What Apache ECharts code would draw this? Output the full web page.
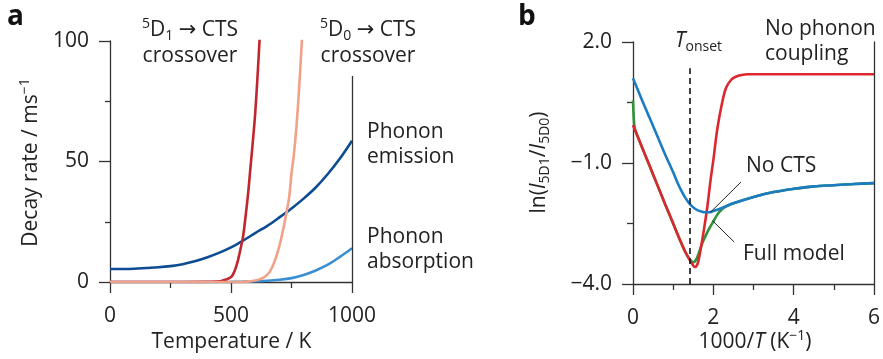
<!DOCTYPE html>
<html>
<head>
<meta charset="utf-8">
<style>
  html, body { margin: 0; padding: 0; background: #fff; }
  #chart { width: 883px; height: 359px; }
</style>
<script src="https://cdn.jsdelivr.net/npm/echarts@6/dist/echarts.min.js"></script>
</head>
<body>
<div id="chart"></div>
<script>
// Panel a: decay rates versus temperature
const rateTemps = [0, 50, 100, 150, 200, 250, 300, 350, 400, 450, 500, 550, 600, 650, 700, 750, 800, 850, 900, 950, 1000];
const phononEmission = [5.4, 5.4, 5.5, 5.8, 6.1, 6.6, 7.4, 8.6, 10.2, 12.1, 14.4, 17.2, 20.3, 23.3, 26.8, 30.5, 34.6, 39.2, 44.8, 51.2, 58.6];
const phononAbsorption = [0, 0, 0, 0, 0, 0, 0, 0, 0, 0.02, 0.05, 0.15, 0.3, 0.5, 0.9, 1.6, 2.9, 4.8, 7.2, 10.4, 14.0];

const d1Temps = [0, 100, 200, 300, 400, 440, 460, 480, 490, 500, 510, 520, 530, 540, 550, 560, 570, 580, 590, 600, 610, 620];
const d1Crossover = [0, 0, 0, 0, 0.05, 0.2, 0.4, 1.0, 1.5, 2.0, 3.5, 6.0, 9.5, 14, 19, 27, 36, 47, 58, 70, 86, 104];

const d0Temps = [0, 200, 400, 500, 560, 580, 600, 620, 640, 660, 680, 700, 720, 740, 750, 760, 770, 780, 790, 800];
const d0Crossover = [0, 0, 0, 0.02, 0.1, 0.3, 0.6, 1.2, 2.2, 4.2, 8.5, 15, 24, 35, 45, 53, 64, 78, 95, 113];

const rateTicks = { x: [0, 500, 1000], y: [0, 50, 100] };

// Panel b: intensity ratio versus inverse temperature
const noPhononX = [0, 0.2, 0.4, 0.6, 0.8, 1.0, 1.2, 1.3, 1.4, 1.47, 1.54, 1.6, 1.65, 1.75, 1.85, 1.93, 2.0, 2.1, 2.22, 2.32, 2.45, 2.56, 2.7, 2.85, 3.5, 4.5, 6];
const noPhonon = [-0.06, -0.55, -1.04, -1.53, -2.02, -2.5, -2.98, -3.2, -3.38, -3.5, -3.58, -3.52, -3.33, -2.75, -2.09, -1.43, -0.93, -0.15, 0.50, 0.87, 1.07, 1.14, 1.18, 1.2, 1.2, 1.2, 1.2];

const noCtsX = [0, 0.2, 0.4, 0.6, 0.8, 1.0, 1.1, 1.2, 1.3, 1.4, 1.5, 1.6, 1.7, 1.8, 1.9, 2.0, 2.2, 2.5, 3.0, 3.5, 4.0, 4.5, 5.0, 5.5, 6.0];
const noCts = [1.10, 0.62, 0.15, -0.32, -0.79, -1.23, -1.47, -1.68, -1.86, -2.0, -2.1, -2.17, -2.2, -2.22, -2.22, -2.19, -2.12, -2.0, -1.84, -1.72, -1.64, -1.58, -1.55, -1.52, -1.5];

const fullX = [0, 0.02, 0.04, 0.08, 0.2, 0.4, 0.6, 0.8, 1.0, 1.2, 1.3, 1.4, 1.5, 1.58, 1.65, 1.72, 1.8, 1.9, 2.0, 2.1, 2.2, 2.3, 2.5, 3.0, 3.5, 4.0, 4.5, 5.0, 5.5, 6.0];
const fullModel = [0.55, 0.1, -0.12, -0.25, -0.55, -1.04, -1.53, -2.02, -2.5, -2.98, -3.2, -3.37, -3.46, -3.38, -3.2, -3.0, -2.82, -2.62, -2.45, -2.28, -2.16, -2.09, -2.0, -1.84, -1.72, -1.64, -1.58, -1.55, -1.52, -1.5];

const tOnset = 1.42;
const ratioTicks = { x: [0, 2, 4, 6], yMajor: [-4, -1, 2], yMinor: [-2.5, 0.5] };

const FONT = "'Open Sans', 'Noto Sans', 'DejaVu Sans', sans-serif";
const INK = '#222';
const AXIS = '#333';

const zip = (xs, ys) => xs.map((x, i) => [x, ys[i]]);
const axisLine = { show: true, onZero: false, lineStyle: { color: AXIS, width: 1.3 } };
const tickStyle = { color: AXIS, width: 1.3 };
const labelStyle = { fontSize: 21, color: INK, fontFamily: FONT };

function curve(name, xs, ys, color, axis, z) {
  return {
    name, type: 'line', data: zip(xs, ys),
    xAxisIndex: axis.x, yAxisIndex: axis.y,
    showSymbol: false, symbol: 'none', smooth: 0.35, z,
    lineStyle: { color, width: 2.6 }, clip: true
  };
}

function guide(from, to, style) {
  return {
    silent: true, symbol: ['none', 'none'], label: { show: false },
    emphasis: { disabled: true }, animation: false,
    lineStyle: style,
    data: [[{ coord: from }, { coord: to }]]
  };
}

const norm = { fontSize: 21, fontFamily: FONT, fill: INK, lineHeight: 26 };
const sup = { fontSize: 14, fontFamily: FONT, fill: INK, lineHeight: 12, verticalAlign: 'top' };
const sub = { fontSize: 14, fontFamily: FONT, fill: INK, lineHeight: 18, verticalAlign: 'bottom' };
const ital = Object.assign({}, norm, { fontStyle: 'italic' });

function text(x, y, str, align, extra) {
  return Object.assign({
    type: 'text', x, y, silent: true,
    style: {
      text: str, fontSize: 21, fontFamily: FONT, fill: INK,
      align: align || 'left', verticalAlign: 'middle',
      rich: { n: norm, sup, sub, i: ital }
    }
  }, extra || {});
}

const plain = v => String(v);

const option = {
  animation: false,
  backgroundColor: '#fff',
  grid: [
    { left: 110, top: 41, width: 242, height: 241 },
    { left: 633, top: 42, width: 242, height: 242 }
  ],
  xAxis: [
    {
      gridIndex: 0, type: 'value', min: 0, max: 1000, interval: 500,
      axisLine, axisTick: { show: true, length: 11, lineStyle: tickStyle },
      minorTick: { show: true, splitNumber: 2, length: 6, lineStyle: tickStyle },
      axisLabel: Object.assign({ margin: 24, customValues: rateTicks.x, formatter: plain }, labelStyle),
      splitLine: { show: false }, minorSplitLine: { show: false }
    },
    {
      gridIndex: 1, type: 'value', min: 0, max: 6, interval: 2,
      axisLine, axisTick: { show: true, length: 11, lineStyle: tickStyle },
      minorTick: { show: true, splitNumber: 2, length: 6, lineStyle: tickStyle },
      axisLabel: Object.assign({ margin: 24, customValues: ratioTicks.x, formatter: plain }, labelStyle),
      splitLine: { show: false }, minorSplitLine: { show: false }
    }
  ],
  yAxis: [
    {
      gridIndex: 0, type: 'value', min: 0, max: 100, interval: 50,
      axisLine, axisTick: { show: true, length: 11, lineStyle: tickStyle },
      minorTick: { show: true, splitNumber: 2, length: 5, lineStyle: tickStyle },
      axisLabel: Object.assign({ margin: 21, customValues: rateTicks.y, formatter: plain }, labelStyle),
      splitLine: { show: false }, minorSplitLine: { show: false }
    },
    {
      gridIndex: 1, type: 'value', min: -4, max: 2,
      axisLine,
      axisTick: { show: true, length: 11, lineStyle: tickStyle, customValues: ratioTicks.yMajor },
      axisLabel: Object.assign({
        margin: 21, customValues: ratioTicks.yMajor,
        formatter: v => v.toFixed(1).replace('-', '\u2212')
      }, labelStyle),
      splitLine: { show: false }
    },
    {
      gridIndex: 1, type: 'value', min: -4, max: 2, position: 'left',
      axisLine: { show: false, onZero: false },
      axisTick: { show: true, length: 6, lineStyle: tickStyle, customValues: ratioTicks.yMinor },
      axisLabel: { show: false }, splitLine: { show: false }
    },
    {
      gridIndex: 1, type: 'value', min: -4, max: 2, position: 'right',
      axisLine, axisTick: { show: false }, axisLabel: { show: false }, splitLine: { show: false }
    }
  ],
  series: [
    Object.assign(curve('Phonon emission', rateTemps, phononEmission, '#0d4c92', { x: 0, y: 0 }, 3), {
      markLine: guide([1000, 0], [1000, 85.5], { color: AXIS, width: 1.3, type: 'solid' })
    }),
    curve('Phonon absorption', rateTemps, phononAbsorption, '#3a8fd3', { x: 0, y: 0 }, 2),
    curve('5D1 → CTS crossover', d1Temps, d1Crossover, '#c1252d', { x: 0, y: 0 }, 4),
    curve('5D0 → CTS crossover', d0Temps, d0Crossover, '#f2a189', { x: 0, y: 0 }, 4),

    curve('Full model', fullX, fullModel, '#2f9238', { x: 1, y: 1 }, 2),
    Object.assign(curve('No phonon coupling', noPhononX, noPhonon, '#db2830', { x: 1, y: 1 }, 3), {
      markLine: guide([tOnset, -4], [tOnset, 1.35], { color: '#111', width: 1.6, type: [6, 4] })
    }),
    Object.assign(curve('No CTS', noCtsX, noCts, '#1b7cc4', { x: 1, y: 1 }, 4), {
      markLine: {
        silent: true, symbol: ['none', 'none'], label: { show: false },
        emphasis: { disabled: true }, animation: false,
        lineStyle: { color: '#222', width: 1, type: 'solid' },
        data: [
          [{ coord: [2.69, -1.47] }, { coord: [1.93, -2.22] }],
          [{ coord: [1.98, -2.43] }, { coord: [2.52, -2.96] }]
        ]
      }
    })
  ],
  graphic: [
    // panel letters
    { type: 'text', x: 7, y: 17, silent: true,
      style: { text: 'a', fontSize: 28, fontWeight: 'bold', fontFamily: FONT, fill: '#111', verticalAlign: 'middle' } },
    { type: 'text', x: 518, y: 17, silent: true,
      style: { text: 'b', fontSize: 28, fontWeight: 'bold', fontFamily: FONT, fill: '#111', verticalAlign: 'middle' } },

    // panel a annotations
    text(190, 30, '{sup|5}{n|D}{sub|1}{n| \u2192 CTS}', 'center'),
    text(190, 56, 'crossover', 'center'),
    text(368, 30, '{sup|5}{n|D}{sub|0}{n| \u2192 CTS}', 'center'),
    text(368, 56, 'crossover', 'center'),
    text(367, 132, 'Phonon'),
    text(367, 157, 'emission'),
    text(367, 237, 'Phonon'),
    text(367, 262, 'absorption'),
    text(231.5, 342, 'Temperature / K', 'center'),
    text(31, 162.5, '{n|Decay rate / ms}{sup|\u22121}', 'center', { rotation: Math.PI / 2 }),

    // panel b annotations
    text(675, 41, '{i|T}{sub|onset}'),
    text(765, 29, 'No phonon'),
    text(765, 54, 'coupling'),
    text(746, 166, 'No CTS'),
    text(743, 254, 'Full model'),
    text(755, 342, '{n|1000/}{i|T}{n| (K}{sup|\u22121}{n|)}', 'center'),
    text(539, 162.5, '{n|ln(}{i|I}{sub|5D1}{n|/}{i|I}{sub|5D0}{n|)}', 'center', { rotation: Math.PI / 2 })
  ]
};

const chart = echarts.init(document.getElementById('chart'), null, { renderer: 'canvas' });
chart.setOption(option);
</script>
</body>
</html>
